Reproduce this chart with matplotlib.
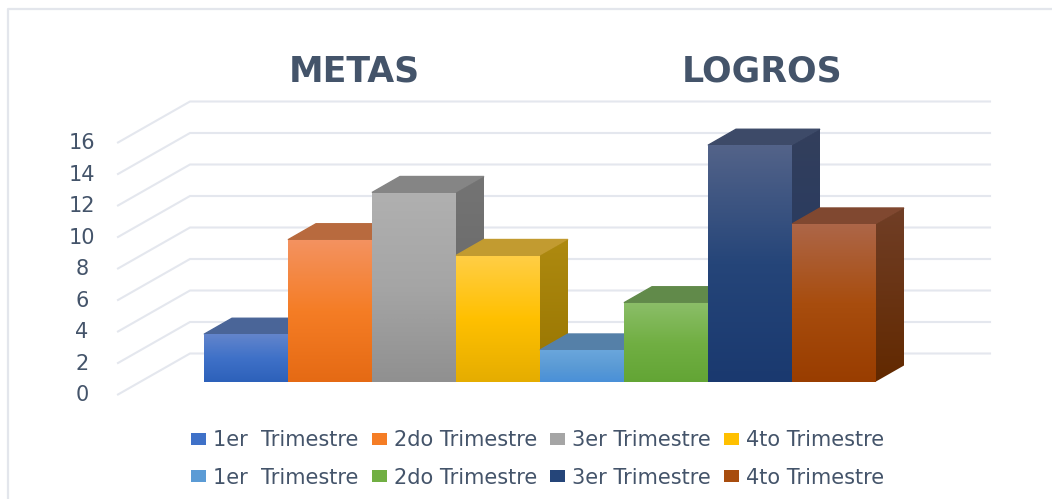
import numpy as np
import matplotlib
matplotlib.use("Agg")
import matplotlib.pyplot as plt
from matplotlib.patches import Polygon, Patch
from matplotlib.lines import Line2D
from matplotlib.colors import LinearSegmentedColormap

groups = ["METAS", "LOGROS"]
series_labels = ["1er  Trimestre", "2do Trimestre", "3er Trimestre", "4to Trimestre"]
metas = [3, 9, 12, 8]
logros = [2, 5, 15, 10]
yticks = [0, 2, 4, 6, 8, 10, 12, 14, 16]

front_top = ["#6385CC", "#F39260", "#B0B0B0", "#FFCE45", "#6AA6DC", "#8BBE68", "#536389", "#AD6648"]
front_mid = ["#3F71C8", "#F57D25", "#A5A5A5", "#FFC000", "#5B9BD5", "#71AF43", "#254579", "#A84D0E"]
front_bot = ["#2D61BA", "#E56A14", "#909090", "#E5AD00", "#4A90D8", "#63A535", "#1A396F", "#993D00"]
top_col = ["#4A6598", "#B86A3E", "#858585", "#C29B30", "#5580A8", "#618A4A", "#3D4A68", "#804830"]
side_top = ["#34507F", "#A85A2A", "#747474", "#AE8A10", "#3F6A90", "#4A7530", "#333F5C", "#703E26"]
side_bot = ["#1E3F78", "#8A4510", "#636363", "#977400", "#2F5F8A", "#3B6620", "#1E3765", "#622900"]

W, H = 1052, 499
PX_X = 84.0
PX_Y = 15.75
X0, Y0 = 204.0, 381.5
DX, DV = 28 / PX_X, 16 / PX_Y
TEXT = "#44546A"
GRID = "#E4E7EE"

fig = plt.figure(figsize=(W / 100, H / 100), dpi=100, facecolor="white")
ax = fig.add_axes([0, 0, 1, 1])
xlim = (-X0 / PX_X, (W - X0) / PX_X)
ylim = ((Y0 - H) / PX_Y, Y0 / PX_Y)
ax.axis("off")

# frame: only top and left edges are visible in the cropped picture
fig.add_artist(Line2D([8 / W, 8 / W, 1], [0, 1 - 9 / H, 1 - 9 / H], transform=fig.transFigure,
                      color="#E3E6EC", lw=1.6))

# walls and gridlines
back_dv = 28 / PX_Y
left_back = (190 - X0) / PX_X
right_back = (990 - X0) / PX_X
left_front = (118 - X0) / PX_X
front_dv = -13 / PX_Y
for v in yticks:
    ax.plot([left_front, left_back, right_back],
            [v + front_dv, v + back_dv, v + back_dv], color=GRID, lw=1.5, zorder=1,
            solid_joinstyle="round")
    ax.text(-1.455, v - 0.76 - 2 / PX_Y, str(v), ha="center", va="center", fontsize=15,
            color=TEXT, family="DejaVu Sans")


def vgrad(c1, c2, c3=None):
    cols = [c1, c2] if c3 is None else [c1, c2, c3]
    return LinearSegmentedColormap.from_list("g", cols)


values = metas + logros
g = np.linspace(0, 1, 128).reshape(-1, 1)
for i, val in enumerate(values):
    z = 2 + i * 0.01
    # top face
    ax.add_patch(Polygon([(i, val), (i + 1, val), (i + 1 + DX, val + DV), (i + DX, val + DV)],
                         fc=top_col[i], ec=top_col[i], lw=1.0, zorder=z + 0.0005))
    # side face with gradient
    side = Polygon([(i + 1, 0), (i + 1 + DX, DV), (i + 1 + DX, val + DV), (i + 1, val)],
                   fc="none", ec="none", zorder=z)
    ax.add_patch(side)
    im = ax.imshow(g, extent=(i + 1, i + 1 + DX, 0, val + DV), aspect="auto", origin="upper",
                   cmap=vgrad(side_top[i], side_bot[i]), zorder=z + 0.001)
    im.set_clip_path(side)
    # front face
    bar = ax.bar(i + 0.5, val, width=1, color=front_mid[i], zorder=z + 0.002)[0]
    im = ax.imshow(g, extent=(i, i + 1, 0, val), aspect="auto", origin="upper",
                   cmap=vgrad(front_top[i], front_mid[i], front_bot[i]), zorder=z + 0.003)
    im.set_clip_path(bar)

ax.set_xlim(*xlim)
ax.set_ylim(*ylim)

# titles
for name, cx in zip(groups, [354.5, 762]):
    ax.text((cx - X0) / PX_X, (Y0 - 71.5) / PX_Y, name, ha="center", va="center",
            fontsize=25, fontweight="bold", color=TEXT, family="DejaVu Sans")

# legend
handles, labels = [], []
for j in range(4):
    handles += [Patch(fc=front_mid[j]), Patch(fc=front_mid[j + 4])]
    labels += [series_labels[j], series_labels[j]]
leg = ax.legend(handles, labels, ncol=4, frameon=False, loc="center",
                bbox_to_anchor=(537.5 / W, 1 - 459 / H), bbox_transform=fig.transFigure,
                prop={"family": "DejaVu Sans", "size": 15}, labelcolor=TEXT,
                handlelength=0.72, handleheight=0.55, handletextpad=0.34,
                columnspacing=0.62, labelspacing=0.82, borderpad=0, borderaxespad=0)
fig.savefig("out.png", dpi=100)
